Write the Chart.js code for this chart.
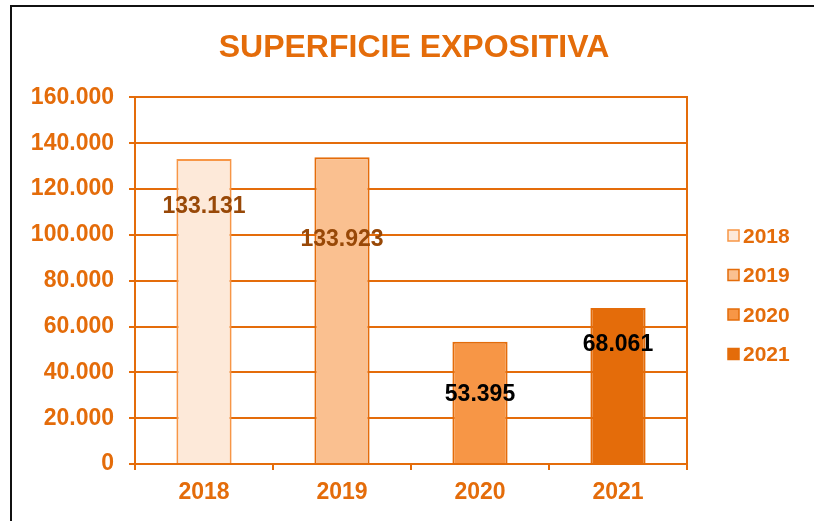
<!DOCTYPE html>
<html lang="it">
<head>
  <meta charset="UTF-8">
  <title>Superficie espositiva</title>
  <script src="https://cdn.jsdelivr.net/npm/chart.js"></script>
  <style>
    body { margin: 0; background: #fff; font-family: "Liberation Sans", Arial, sans-serif; }
    #wrap { position: relative; width: 814px; height: 521px; }
    #frame { position: absolute; left: 10px; top: 5px; width: 900px; height: 600px; border: 2px solid #111; pointer-events: none; }
  </style>
</head>
<body>
  <div id="wrap">
    <canvas id="chart" width="814" height="521"></canvas>
    <div id="frame"></div>
  </div>

  <script>
    const anni = ['2018', '2019', '2020', '2021'];
    const superficie = [133131, 133923, 53395, 68061];

    const arancio = '#E46C0A';
    const riempimenti = ['#FDE9D9', '#FAC090', '#F79646', '#E46C0A'];
    const bordi = ['#F79646', '#E46C0A', '#E46C0A', '#E46C0A'];
    const coloriEtichette = ['#984807', '#984807', '#000000', '#000000'];
    // spostamento verticale delle etichette rispetto alla cima della barra (px)
    const spostamentiEtichette = [48, 83, 53, 37];

    const font = { family: '"Liberation Sans", Arial, sans-serif', weight: 'bold' };
    const fmt = v => v.toLocaleString('it-IT');

    const etichette = {
      id: 'etichette',
      afterDatasetsDraw(chart) {
        const ctx = chart.ctx;
        const meta = chart.getDatasetMeta(0);
        ctx.save();
        ctx.font = 'bold 23px "Liberation Sans", Arial, sans-serif';
        ctx.textAlign = 'center';
        ctx.textBaseline = 'middle';
        meta.data.forEach((bar, i) => {
          ctx.fillStyle = coloriEtichette[i];
          ctx.fillText(fmt(superficie[i]), bar.x, bar.y + spostamentiEtichette[i]);
        });
        ctx.restore();
      }
    };

    const legenda = {
      id: 'legenda',
      afterDraw(chart) {
        const ctx = chart.ctx;
        ctx.save();
        ctx.font = 'bold 21px "Liberation Sans", Arial, sans-serif';
        ctx.textBaseline = 'middle';
        anni.forEach((a, i) => {
          const y = 236 + i * 39.5;
          ctx.fillStyle = riempimenti[i];
          ctx.fillRect(728, y - 6, 11, 11);
          ctx.strokeStyle = bordi[i];
          ctx.lineWidth = 1.5;
          ctx.strokeRect(728, y - 6, 11, 11);
          ctx.fillStyle = arancio;
          ctx.fillText(a, 743, y + 1);
        });
        ctx.restore();
      }
    };

    new Chart(document.getElementById('chart').getContext('2d'), {
      type: 'bar',
      data: {
        labels: anni,
        datasets: [{
          label: 'Superficie espositiva',
          data: superficie,
          backgroundColor: riempimenti,
          borderColor: bordi,
          borderWidth: 2,
          categoryPercentage: 1,
          barPercentage: 0.4
        }]
      },
      options: {
        responsive: false,
        animation: false,
        locale: 'it-IT',
        layout: { padding: { left: 14, right: 0, bottom: 4, top: 0 } },
        scales: {
          x: {
            grid: { display: true, offset: true, drawOnChartArea: false, color: arancio, lineWidth: 2, tickLength: 6 },
            border: { color: arancio, width: 2 },
            ticks: { color: arancio, font: { ...font, size: 23 }, padding: 9 },
            afterFit(s) { s.height = 53; }
          },
          y: {
            min: 0,
            max: 160000,
            grid: { color: arancio, lineWidth: 2, tickLength: 6 },
            border: { color: arancio, width: 2 },
            ticks: { stepSize: 20000, color: arancio, font: { ...font, size: 23 }, padding: 15, callback: v => fmt(v) },
            afterFit(s) { s.width = 121; }
          },
          y2: {
            position: 'right',
            min: 0,
            max: 160000,
            grid: { drawOnChartArea: false, drawTicks: false },
            border: { color: arancio, width: 2 },
            ticks: { display: false },
            afterFit(s) { s.width = 127; }
          }
        },
        plugins: {
          legend: { display: false },
          tooltip: { enabled: false },
          title: {
            display: true,
            text: 'SUPERFICIE EXPOSITIVA',
            color: arancio,
            font: { ...font, size: 32 },
            padding: { top: 29, bottom: 30 }
          }
        }
      },
      plugins: [etichette, legenda]
    });
  </script>
</body>
</html>
